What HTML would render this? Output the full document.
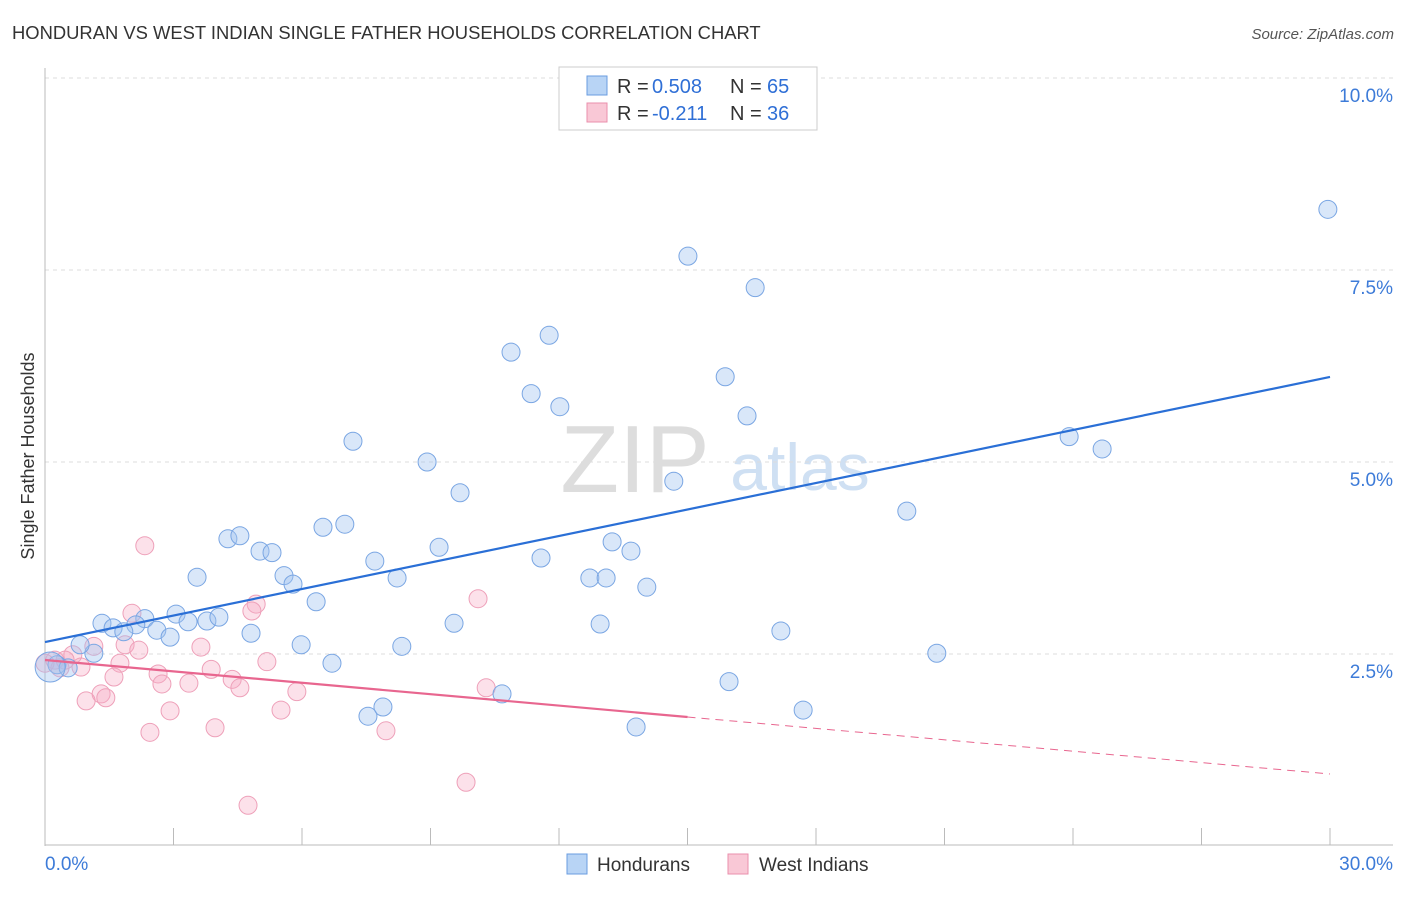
<!DOCTYPE html>
<html><head><meta charset="utf-8"><style>
body{margin:0;background:#fff;font-family:"Liberation Sans",sans-serif;}
svg text{font-family:"Liberation Sans",sans-serif;}
</style></head><body>
<svg id="c" width="1406" height="892" viewBox="0 0 1406 892" xmlns="http://www.w3.org/2000/svg">
<text x="12" y="39" font-size="18.4" fill="#333">HONDURAN VS WEST INDIAN SINGLE FATHER HOUSEHOLDS CORRELATION CHART</text>
<text x="1394" y="39" font-size="15" fill="#555" font-style="italic" text-anchor="end">Source: ZipAtlas.com</text>
<text x="635" y="492" font-size="96" fill="#ddd" font-family="Liberation Serif" text-anchor="middle">ZIP</text>
<text x="800" y="490" font-size="66" fill="#cfe0f3" text-anchor="middle">atlas</text>
<text transform="translate(34,456) rotate(-90)" font-size="18" fill="#333" text-anchor="middle">Single Father Households</text>
<g id="grid"></g><g id="pts"></g><g id="lines"></g>
<g>
<rect x="559" y="67" width="258" height="63" fill="#fff" stroke="#ccc"/>
<rect x="587" y="76" width="20" height="19" fill="#b8d4f5" stroke="#6a9ce0"/>
<rect x="587" y="103" width="20" height="19" fill="#f9c8d6" stroke="#ea8fac"/>
<text x="617" y="93" font-size="20" fill="#333">R =</text>
<text x="652" y="93" font-size="20" fill="#2f6fd6">0.508</text>
<text x="730" y="93" font-size="20" fill="#333">N =</text>
<text x="767" y="93" font-size="20" fill="#2f6fd6">65</text>
<text x="617" y="120" font-size="20" fill="#333">R =</text>
<text x="652" y="120" font-size="20" fill="#2f6fd6">-0.211</text>
<text x="730" y="120" font-size="20" fill="#333">N =</text>
<text x="767" y="120" font-size="20" fill="#2f6fd6">36</text>
</g>
<g>
<rect x="567" y="854" width="20" height="20" fill="#b8d4f5" stroke="#6a9ce0"/>
<text x="597" y="871" font-size="19" fill="#333">Hondurans</text>
<rect x="728" y="854" width="20" height="20" fill="#f9c8d6" stroke="#ea8fac"/>
<text x="759" y="871" font-size="19" fill="#333">West Indians</text>
</g>
</svg>
<script>
const yTicks=[2.5,5,7.5,10];
const yTickLabels=["2.5%","5.0%","7.5%","10.0%"];
const xTicks=[0,3,6,9,12,15,18,21,24,27,30];
const hondX=[29.95,15.01,16.58,11.77,10.88,15.88,11.35,12.02,16.39,7.19,23.91,24.68,8.92,9.69,14.68,20.12,6.49,7.00,4.27,4.55,9.20,13.24,13.68,5.02,5.30,7.70,11.58,3.55,5.58,8.22,12.72,13.10,5.79,14.05,6.33,3.06,3.78,4.06,2.33,3.34,1.33,1.59,2.12,2.61,1.84,2.92,4.81,9.55,12.96,17.18,5.98,8.33,20.82,1.14,0.82,6.70,0.28,0.54,0.12,15.97,10.67,7.89,7.54,17.70,13.80];
const hondY=[8.29,7.68,7.27,6.65,6.43,6.11,5.89,5.72,5.60,5.27,5.33,5.17,5.00,4.60,4.75,4.36,4.15,4.19,4.00,4.04,3.89,3.96,3.84,3.84,3.82,3.71,3.75,3.50,3.52,3.49,3.49,3.49,3.41,3.37,3.18,3.02,2.93,2.98,2.96,2.92,2.90,2.84,2.88,2.81,2.79,2.72,2.77,2.90,2.89,2.80,2.62,2.60,2.51,2.51,2.62,2.38,2.36,2.32,2.33,2.14,1.98,1.81,1.69,1.77,1.55];
const wiX=[2.33,2.03,4.93,4.83,10.11,1.14,1.87,3.64,2.19,0.65,0.84,1.75,5.18,3.88,2.64,1.61,4.37,2.73,3.36,4.55,5.88,10.30,1.31,1.42,0.96,2.92,5.51,2.45,3.97,7.96,4.74,9.83,0.23,0.35,0.0,0.47];
const wiY=[3.91,3.03,3.15,3.06,3.22,2.60,2.62,2.59,2.55,2.49,2.33,2.38,2.40,2.30,2.24,2.20,2.17,2.11,2.12,2.06,2.01,2.06,1.98,1.93,1.89,1.76,1.77,1.48,1.54,1.50,0.53,0.83,2.42,2.32,2.38,2.42];
const hondTrend=[2.656,6.107];
const wiTrend=[2.422,0.9375];
const wiSolidEnd=15;
const NS="http://www.w3.org/2000/svg";
const X0=45,X1=1330,Ybase=846,YperPct=192/2.5;
const sx=v=>X0+(v/30)*(X1-X0);
const sy=v=>Ybase-v*YperPct;
function mk(tag,at,parent){const e=document.createElementNS(NS,tag);for(const k in at)e.setAttribute(k,at[k]);parent.appendChild(e);return e;}
const grid=document.getElementById('grid');
yTicks.forEach((t,i)=>{
 const l=mk('line',{x1:45,x2:1393,y1:sy(t),y2:sy(t),stroke:'#ddd','stroke-dasharray':'4,4'},grid);
 
 
 const tx=mk('text',{x:1393,y:sy(t)+24,'font-size':19,fill:'#3d7bd8','text-anchor':'end'},grid);
 tx.textContent=yTickLabels[i];
 
 
});
const ax=mk('line',{x1:45,x2:45,y1:68,y2:846,stroke:'#bbb'},grid);


const bx=mk('line',{x1:45,x2:1393,y1:845,y2:845,stroke:'#bbb'},grid);


xTicks.forEach(t=>{
 const l=mk('line',{x1:sx(t),x2:sx(t),y1:828,y2:845,stroke:'#bbb'},grid);
 
 
});
const xl=mk('text',{x:45,y:870,'font-size':19,fill:'#3d7bd8'},grid);xl.textContent='0.0%';


const xr=mk('text',{x:1393,y:870,'font-size':19,fill:'#3d7bd8','text-anchor':'end'},grid);xr.textContent='30.0%';


const pts=document.getElementById('pts');
wiX.forEach((x,i)=>{
 const c=mk('circle',{cx:sx(x),cy:sy(wiY[i]),r:9,fill:'rgba(246,170,195,0.35)',stroke:'#eea0b9','stroke-width':1},pts);
 
 
});
hondX.forEach((x,i)=>{
 const c=mk('circle',{cx:sx(x),cy:sy(hondY[i]),r:(i==58?15:9),fill:'rgba(160,195,240,0.4)',stroke:'#7aa6e3','stroke-width':1},pts);
 
 
});
const lines=document.getElementById('lines');
const bl=mk('line',{x1:sx(0),y1:sy(hondTrend[0]),x2:sx(30),y2:sy(hondTrend[1]),stroke:'#2a6fd6','stroke-width':2.2},lines);


const wAt=x=>wiTrend[0]+(wiTrend[1]-wiTrend[0])*x/30;
const pl=mk('line',{x1:sx(0),y1:sy(wiTrend[0]),x2:sx(wiSolidEnd),y2:sy(wAt(wiSolidEnd)),stroke:'#e8668f','stroke-width':2.2},lines);


const pd=mk('line',{x1:sx(wiSolidEnd),y1:sy(wAt(wiSolidEnd)),x2:sx(30),y2:sy(wiTrend[1]),stroke:'#e8668f','stroke-width':1,'stroke-dasharray':'8,6'},lines);


</script>
</body></html>
